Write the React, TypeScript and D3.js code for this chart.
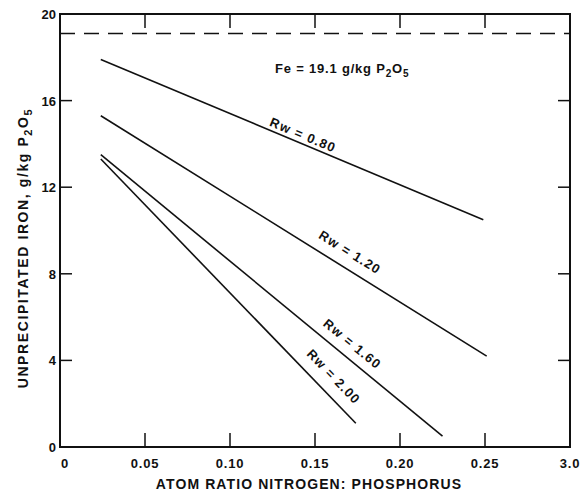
import React from "react";
import * as d3 from "d3";

const rwLabels = ["0.80", "1.20", "1.60", "2.00"];
const xStart = [0.024, 0.024, 0.024, 0.024];
const yStart = [17.9, 15.3, 13.5, 13.3];
const xEnd = [0.249, 0.251, 0.225, 0.174];
const yEnd = [10.5, 4.2, 0.5, 1.1];
const labelX = [0.143, 0.1706, 0.172, 0.161];
const labelY = [14.41, 8.99, 4.76, 3.25];

const xTicks = [0, 0.05, 0.1, 0.15, 0.2, 0.25, 0.3];
const xTickLabels = ["0", "0.05", "0.10", "0.15", "0.20", "0.25", "3.0"];
const yTicks = [0, 4, 8, 12, 16, 20];
const totalFe = 19.1;

const W = 582;
const H = 493;
const L = 60, R = 570, T = 14, B = 447;
const FONT = "'Liberation Sans', Arial, sans-serif";

export default function App() {
  const x = d3.scaleLinear().domain([0, 0.3]).range([L, R]);
  const y = d3.scaleLinear().domain([0, 20]).range([B, T]);
  const line = d3.line<[number, number]>().x((d) => x(d[0])).y((d) => y(d[1]));

  return (
    <svg width={W} height={H} style={{ position: "absolute", left: 0, top: 0, background: "#fff" }} fontFamily={FONT} fontWeight="bold">
      <rect x={0} y={0} width={W} height={H} fill="#fff" />
      {/* frame */}
      <rect x={L} y={T} width={R - L} height={B - T} fill="none" stroke="#111" strokeWidth={2} />
      {/* x ticks bottom & top */}
      {xTicks.slice(1, -1).map((t, i) => (
        <g key={"xt" + i}>
          <line x1={x(t)} x2={x(t)} y1={B} y2={B - 14} stroke="#111" strokeWidth={1.5} />
          <line x1={x(t)} x2={x(t)} y1={T} y2={T + 14} stroke="#111" strokeWidth={1.5} />
        </g>
      ))}
      {xTicks.map((t, i) => (
        <text key={"xl" + i} x={i === 0 ? x(t) + 5 : x(t)} y={468} textAnchor="middle" fontSize={13} letterSpacing={0.8} fill="#111">
          {xTickLabels[i]}
        </text>
      ))}
      {/* y ticks left & right */}
      {yTicks.slice(1, -1).map((t, i) => (
        <g key={"yt" + i}>
          <line x1={L} x2={L + 12} y1={y(t)} y2={y(t)} stroke="#111" strokeWidth={1.5} />
          <line x1={R} x2={R - 12} y1={y(t)} y2={y(t)} stroke="#111" strokeWidth={1.5} />
        </g>
      ))}
      {yTicks.map((t, i) => (
        <text key={"yl" + i} x={L - 4} y={y(t) + 5} textAnchor="end" fontSize={13} fill="#111">
          {t}
        </text>
      ))}
      {/* dashed total Fe line */}
      <line x1={L} x2={R} y1={y(totalFe)} y2={y(totalFe)} stroke="#111" strokeWidth={1.5} strokeDasharray="15,9" />
      <text x={275} y={73} fontSize={13} letterSpacing={0.8} fill="#111">
        Fe = 19.1 g/kg P<tspan fontSize={10} dy={4}>2</tspan><tspan dy={-4}>O</tspan><tspan fontSize={10} dy={4}>5</tspan>
      </text>
      {/* lines */}
      {rwLabels.map((lab, i) => {
        const pts: [number, number][] = [[xStart[i], yStart[i]], [xEnd[i], yEnd[i]]];
        const ang = (Math.atan2(y(yEnd[i]) - y(yStart[i]), x(xEnd[i]) - x(xStart[i])) * 180) / Math.PI;
        const cx = x(labelX[i]);
        const cy = y(labelY[i]);
        return (
          <g key={"s" + i}>
            <path d={line(pts) || ""} fill="none" stroke="#111" strokeWidth={1.6} />
            <text x={cx} y={cy} transform={`rotate(${ang},${cx},${cy})`} textAnchor="middle" dominantBaseline="central" fontSize={13} letterSpacing={1.2} fill="#111">
              {"Rw = " + lab}
            </text>
          </g>
        );
      })}
      {/* axis titles */}
      <text x={309} y={489} textAnchor="middle" fontSize={14} letterSpacing={1.1} fill="#111">
        ATOM RATIO NITROGEN: PHOSPHORUS
      </text>
      <text transform={`translate(28,248) rotate(-90)`} textAnchor="middle" fontSize={14} letterSpacing={1.6} fill="#111">
        UNPRECIPITATED IRON, g/kg P<tspan fontSize={11} dy={4}>2</tspan><tspan dy={-4}>O</tspan><tspan fontSize={11} dy={4}>5</tspan>
      </text>
    </svg>
  );
}
